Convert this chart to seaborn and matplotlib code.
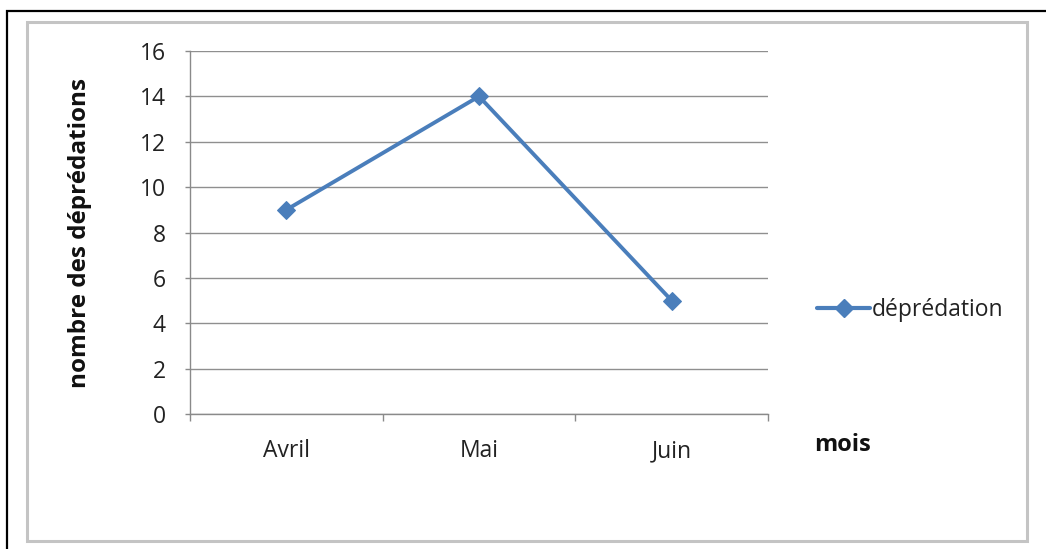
import matplotlib
matplotlib.use("Agg")
import matplotlib.pyplot as plt
from matplotlib.patches import Rectangle
from matplotlib.lines import Line2D
from matplotlib.ticker import FixedLocator, NullFormatter
import seaborn as sns
import pandas as pd

mois = ["Avril", "Mai", "Juin"]
depredations = [9, 14, 5]
y_ticks = [0, 2, 4, 6, 8, 10, 12, 14, 16]
serie = "déprédation"

sns.set_theme(style="white")
plt.rcParams["font.family"] = ["Open Sans", "DejaVu Sans"]

W, H = 1046, 549
fig = plt.figure(figsize=(W / 100, H / 100), dpi=100)
fig.patch.set_facecolor("white")

# outer frame and chart-area border
fig.patches.append(Rectangle((7 / W, -0.05), 1.1, 1 - 11 / H + 0.05,
                             transform=fig.transFigure, fill=False,
                             edgecolor="black", linewidth=1.6))
fig.patches.append(Rectangle((27 / W, 1 - 541 / H), 1000 / W, 519 / H,
                             transform=fig.transFigure, fill=False,
                             edgecolor="#c4c4c4", linewidth=2.2))

ax = fig.add_axes([190 / W, 1 - 414 / H, 578 / W, 363 / H])

df = pd.DataFrame({"mois": mois, "n": depredations})
color = "#4a7ebb"
sns.lineplot(data=df, x="mois", y="n", ax=ax, sort=False, color=color,
             linewidth=2.8, marker="D", markersize=9, markeredgecolor=color,
             markerfacecolor=color)

ax.set_xlim(-0.5, len(mois) - 0.5)
ax.set_ylim(y_ticks[0], y_ticks[-1])
ax.set_yticks(y_ticks)
ax.set_yticklabels([str(v) for v in y_ticks])
ax.set_xticks(range(len(mois)))
ax.set_xticklabels(mois)
ax.xaxis.set_minor_locator(FixedLocator([i - 0.5 for i in range(len(mois) + 1)]))
ax.xaxis.set_minor_formatter(NullFormatter())

ax.grid(axis="y", color="#8f8f8f", linewidth=1.0)
ax.set_axisbelow(True)
for s in ["top", "right"]:
    ax.spines[s].set_visible(False)
for s in ["left", "bottom"]:
    ax.spines[s].set_color("#8a8a8a")
    ax.spines[s].set_linewidth(1.0)

tick_fs = 16.5
ax.tick_params(axis="y", which="major", left=True, length=3.6, width=1,
               color="#8a8a8a", labelsize=tick_fs, labelcolor="#222222", pad=14)
ax.tick_params(axis="x", which="major", bottom=False, labelsize=tick_fs,
               labelcolor="#222222", pad=12)
ax.tick_params(axis="x", which="minor", bottom=True, length=5, width=1,
               color="#8a8a8a")

ax.set_xlabel("")
ax.set_ylabel("nombre des déprédations", fontsize=17.5, fontweight="bold",
              color="#111111")
ax.yaxis.set_label_coords((92 - 190) / 578, 0.5)

fig.text(843 / W, 1 - 445 / H, "mois", fontsize=17, fontweight="bold",
         color="#111111", ha="center", va="center")

handle = Line2D([], [], color=color, linewidth=3.0, marker="D", markersize=9)
fig.legend([handle], [serie], loc="center left",
           bbox_to_anchor=(806 / W, 1 - 310 / H), frameon=False,
           fontsize=tick_fs, handlelength=2.3, handletextpad=0.05,
           borderpad=0, labelcolor="#222222")

fig.savefig("out.png", dpi=100)
